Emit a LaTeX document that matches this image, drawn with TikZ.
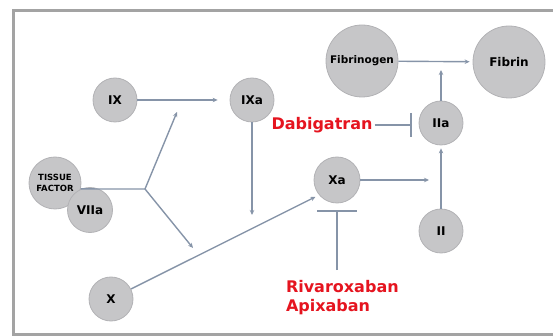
\documentclass[tikz,border=0pt]{standalone}
\usepackage{fontspec}
\setmainfont{DejaVu Sans}
\usepackage{tikz}
\usetikzlibrary{arrows.meta}
\definecolor{framegray}{HTML}{A3A3A3}
\definecolor{disc}{HTML}{C6C6C8}
\definecolor{discedge}{HTML}{B2B2B5}
\definecolor{wire}{HTML}{8694A8}
\definecolor{drugred}{HTML}{E5141F}

\begin{document}
\begin{tikzpicture}[x=1pt, y=-1pt,
  every node/.style={font=\bfseries\fontsize{12}{14}\selectfont, text=black},
  factor/.style={circle, fill=disc, draw=discedge, line width=0.8pt,
                 inner sep=0pt, minimum size=44pt},
  big/.style={factor, minimum size=72pt},
  trunk/.style={draw=wire, line width=1.4pt},
  link/.style={trunk, -{Stealth[length=5pt, width=4.5pt]}},
  drug/.style={font=\bfseries\fontsize{16}{19}\selectfont, text=drugred, inner sep=2pt}
]
  \useasboundingbox (0,0) rectangle (553,336);
  \draw[framegray, line width=3pt] (553,10.5) -- (13.5,10.5) -- (13.5,334) -- (553,334);

  % factors
  \node[factor] (ix) at (115,100) {IX};
  \node[factor] (ixa) at (252,100) {IXa};
  \node[big, font=\bfseries\fontsize{10.5}{12}\selectfont] (fbg) at (362,61) {Fibrinogen};
  \node[big] (fbn) at (509,62) {Fibrin};
  \node[factor] (iia) at (441,123) {IIa};
  \node[factor, minimum size=46pt] (xa) at (337,180) {Xa};
  \node[factor] (ii) at (441,231) {II};
  \node[factor] (x) at (111,299) {X};
  \node[factor, minimum size=52pt, align=center,
        font=\bfseries\fontsize{8.5}{11}\selectfont] (tf) at (55,183) {TISSUE\\FACTOR};
  \node[factor, minimum size=45pt] (viia) at (90,210) {VIIa};

  % drugs
  \node[drug] (dabi) at (322,125) {Dabigatran};
  \node[drug, anchor=north west, align=left, outer xsep=0pt, outer ysep=8pt]
    (riva) at (284,270) {Rivaroxaban\\Apixaban};

  % free ends
  \coordinate (branch) at (145,189);
  \coordinate (tfup) at (177,112);
  \coordinate (tfdown) at (193,248);
  \coordinate (ixadown) at (252,215);
  \coordinate (xaout) at (429,180);
  \coordinate (iiaup) at (441,70);

  \draw[trunk] (tf.-13) -- (branch);
  \draw[link] (branch) -- (tfup);
  \draw[link] (branch) -- (tfdown);
  \draw[link, shorten >=12pt] (ix) -- (ixa);
  \draw[link] (ixa) -- (ixadown);
  \draw[link, shorten >=4pt] (x) -- (xa.220);
  \draw[link] (xa) -- (xaout);
  \draw[link, shorten >=3pt] (ii) -- (iia);
  \draw[link] (iia) -- (iiaup);
  \draw[link, shorten >=3pt] (fbg) -- (fbn);

  % inhibitors
  \draw[trunk, -{Bar[width=24pt]}, shorten >=7pt] (dabi.east) -- (dabi.east -| iia.west);
  \draw[trunk, -{Bar[width=40pt]}, shorten >=7pt] (riva.north -| xa) -- (xa.south);
\end{tikzpicture}
\end{document}
